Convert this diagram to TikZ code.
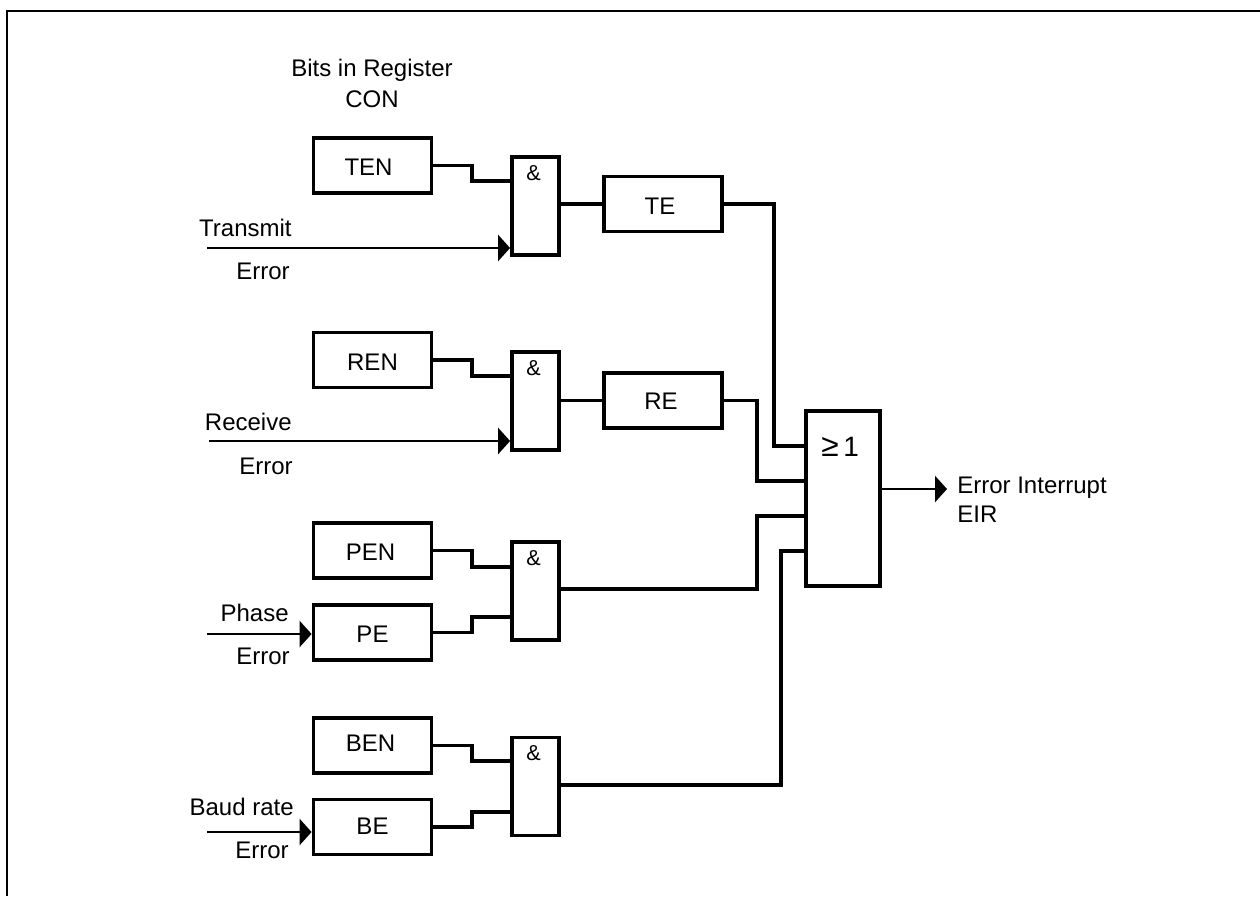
\documentclass[tikz,border=0pt]{standalone}
\usepackage{fontspec}
\setmainfont{Liberation Sans}
\usetikzlibrary{arrows.meta}
\tikzset{fig/.style={line join=miter,>=Stealth,x=0.6pt,y=-0.6pt},
  regbox/.style={draw,line width=2.3pt,inner sep=0pt,minimum width=70.8pt,minimum height=33pt},
  regtext/.style={inner sep=0pt,font=\fontsize{14.4}{17}\selectfont},
  andgate/.style={draw,line width=2.3pt,inner sep=0pt,minimum width=28.2pt,minimum height=58.8pt},
  orgate/.style={draw,line width=2.3pt,inner sep=0pt,minimum width=44.4pt,minimum height=105pt},
  wire/.style={line width=2.3pt},
  sig/.style={line width=1.6pt,-{Triangle[length=7.2pt,width=15.6pt]}},
  lab/.style={inner sep=0pt,anchor=base east,font=\fontsize{14.4}{17}\selectfont}}

\begin{document}
\begin{tikzpicture}[fig]
  \useasboundingbox (0,0) rectangle (1260,896);
  \draw[line width=1.2pt] (7,896)--(7,11)--(1260,11);
  \foreach \n/\t/\x/\y/\dx/\dy in {ten/TEN/372.5/165.5/-4/2,ren/REN/372.5/360/0/2,pen/PEN/372.5/550.5/-2/2,pe/PE/372.5/632.5/0/2,ben/BEN/372.5/745.5/-2/-2,be/BE/372.5/827/0/-1,te/TE/663/204/-3/2,re/RE/663/400.5/-2/1}{
    \node[regbox] (\n) at (\x,\y) {};
    \node[regtext] (\n text) at ([shift={(\dx,\dy)}]\n) {\t};}
  \foreach \g/\y in {1/206,2/401,3/591,4/786.5}{
    \node[andgate] (and\g) at (535.5,\y) {};
    \node[inner sep=0pt,anchor=base,font=\fontsize{13}{15}\selectfont] (amp\g) at ([shift={(-2,25)}]and\g.north) {\&};}
  \node[orgate] (or) at (843,498.5) {};
  \node[inner sep=0pt,anchor=base west,font=\fontsize{16.8}{20}\selectfont] (orsign) at (821,456) {{\fontsize{19}{20}\selectfont ≥}\,1};
  % inputs to the gates
  \draw[wire] (ten.east) -| (472,181) -- (and1.west |- 472,181);
  \draw[wire] (ren.east) -| (472,376) -- (and2.west |- 472,376);
  \draw[wire] (pen.east) -| (472,567) -- (and3.west |- 472,567);
  \draw[wire] (pe.east) -| (472,617) -- (and3.west |- 472,617);
  \draw[wire] (ben.east) -| (472,761) -- (and4.west |- 472,761);
  \draw[wire] (be.east) -| (472,812) -- (and4.west |- 472,812);
  % outputs to the or gate
  \draw[wire] (and1.east |- te.west) -- (te.west);
  \draw[wire] (and2.east |- re.west) -- (re.west);
  \draw[wire] (te.east) -| (774,446) -- (or.west |- 774,446);
  \draw[wire] (re.east) -| (757,481) -- (or.west |- 757,481);
  \draw[wire] (and3.east |- 757,589) -| (757,516) -- (or.west |- 757,516);
  \draw[wire] (and4.east |- 781,785) -| (781,551) -- (or.west |- 781,551);
  % error signals
  \coordinate (txin) at (207,248); \coordinate (rxin) at (209,441);
  \coordinate (phin) at (207,634); \coordinate (bdin) at (207,832);
  \coordinate (eirout) at (947,489);
  \draw[sig] (txin) -- (and1.west |- txin);
  \draw[sig] (rxin) -- (and2.west |- rxin);
  \draw[sig] (phin) -- (pe.west |- phin);
  \draw[sig] (bdin) -- (be.west |- bdin);
  \draw[sig] (or.east |- eirout) -- (eirout);
  \node[lab,anchor=base,align=center] (bits) at (372,76) {Bits in Register};
  \node[lab,anchor=base,align=center] (con) at (372,107) {CON};
  \node[lab] (tx) at (292,236) {Transmit}; \node[lab] (txerr) at (290,279) {Error};
  \node[lab] (rx) at (292,430) {Receive}; \node[lab] (rxerr) at (293,474) {Error};
  \node[lab] (ph) at (289,621) {Phase}; \node[lab] (pherr) at (290,664) {Error};
  \node[lab] (bd) at (294,815) {Baud rate}; \node[lab] (bderr) at (289,858) {Error};
  \node[lab,anchor=base west] (eir1) at (957,493) {Error Interrupt};
  \node[lab,anchor=base west] (eir2) at (957,522) {EIR};
\end{tikzpicture}
\end{document}
